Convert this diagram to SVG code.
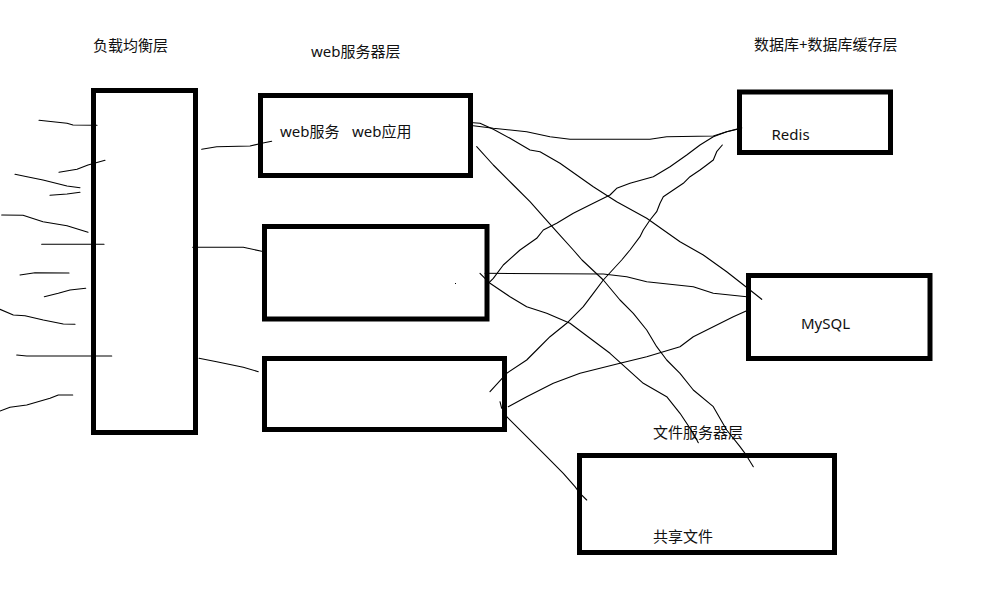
<svg xmlns="http://www.w3.org/2000/svg" width="1001" height="593" viewBox="0 0 1001 593">
<style>
.box{fill:none;stroke:#000;stroke-width:5}
.ln{fill:none;stroke:#000;stroke-width:1.1;stroke-linejoin:round;stroke-linecap:round}
.t{font-family:"Noto Sans","Noto Sans CJK SC",sans-serif;font-size:15px;fill:#111}
</style>
<rect width="1001" height="593" fill="#fff"/>
<g id="labels">
<text class="t" x="93" y="50.5">负载均衡层</text>
<text class="t" x="311" y="57">web服务器层</text>
<text class="t" x="754" y="49.5">数据库+数据库缓存层</text>
<text class="t" x="653" y="438">文件服务器层</text>
</g>
<g id="lb"><rect class="box" x="93.5" y="90.5" width="102" height="342"/></g>
<g id="web1"><rect class="box" x="260.5" y="95.5" width="210" height="80"/>
<text class="t" x="280" y="137">web服务<tspan x="352">web应用</tspan></text></g>
<g id="web2"><rect class="box" x="264.5" y="226.5" width="222.5" height="92.5"/><rect x="455" y="283" width="1" height="1" fill="#000"/></g>
<g id="web3"><rect class="box" x="264.5" y="358.5" width="240" height="71"/></g>
<g id="redis"><rect class="box" x="739.5" y="92" width="151" height="60.5"/>
<text class="t" x="771.5" y="139.5">Redis</text></g>
<g id="mysql"><rect class="box" x="748.5" y="275.5" width="181.5" height="83"/>
<text class="t" x="801" y="329">MySQL</text></g>
<g id="file"><rect class="box" x="579.5" y="455.5" width="255" height="97"/>
<text class="t" x="653" y="541.5">共享文件</text></g>
<g id="connectors">
<polyline class="ln" points="39,120.3 53,121.7 67,123.3 73,125 97,125.3"/>
<polyline class="ln" points="59,172.3 77,169.3 88,165 105,160.3"/>
<polyline class="ln" points="15,174.3 27,176.7 43,180 67,186 80,187.7"/>
<polyline class="ln" points="50,195.3 67,194 80,192.3"/>
<polyline class="ln" points="1.7,215 23,215.3 43,221.7 67,225.7 88,232.3"/>
<polyline class="ln" points="41.7,244.3 104,244.3"/>
<polyline class="ln" points="20,275 35,272.7 69,273"/>
<polyline class="ln" points="44.3,296.7 58.3,293.3 70,290 85.7,288.3"/>
<polyline class="ln" points="0,309.3 13.3,315 25,315.7 43.3,320 63.3,324 75,324.3"/>
<polyline class="ln" points="16.7,355 26.7,356 111.7,356"/>
<polyline class="ln" points="0,411 10,407.3 26.7,405 50,398.3 58.3,395 72.7,395"/>
<polyline class="ln" points="201.7,149.3 216.7,146.7 250,146 261.7,143.3 271.7,141.3"/>
<polyline class="ln" points="192.7,247.3 243.3,247.3 261.7,251.3"/>
<polyline class="ln" points="199,358.3 216.7,361.7 243.3,367.3 258.3,371.7"/>
<polyline class="ln" points="473.3,125.7 493.3,128.3 526.7,131.7 550,136.7 570,139.3 650,139.3 666.7,136.7 713.3,136 726.7,131.7 741.7,128.3"/>
<polyline class="ln" points="473.3,122.7 480,123.3 493.3,129.3 510,138.3 530,150 540,151.7 560,163.3 593.3,186.7 616.7,201.7 646.7,218.3 680,241.7 703.3,255 726.7,271.7 750,290 761.7,299.3"/>
<polyline class="ln" points="476.7,146.7 493.3,165 513.3,185 530,201.7 543.3,216.7 556.7,231.7 573.3,250 582,260 603.3,280 620,300 633.3,313.3 646.7,330 656.7,346.7 666.7,360 680,373.3 693.3,390 713.3,406.7 726.7,430 740,446.7 745,453.3 753.3,466.7"/>
<polyline class="ln" points="741.7,127.7 726.7,131.7 713.3,136.7 700,145 686.7,155 670,166.7 653.3,176.7 630,183.3 616.7,188.3 610,195 593.3,203.3 573.3,213.3 556.7,223.3 543.3,230 536.7,238.3 520,250 503.3,265 493.3,278.3 488.3,283.3"/>
<polyline class="ln" points="722.3,145 716.7,151.7 713.3,160 706.7,165 700,170 690,176.7 683.3,183.3 673.3,190 663.3,196.7 660,203.3 656.7,211.7 650,220 643.3,230 640,236.7 630,250 621.7,260 603.3,280 593.3,293.3 583.3,306.7 566.7,323.3 550,336.7 536.7,350 526.7,360 506.7,373.3 490,391.7"/>
<polyline class="ln" points="485,273.3 603.3,274 626.7,276.7 646.7,281.7 693.3,286.7 713.3,293.3 746.7,296.7 750,298"/>
<polyline class="ln" points="480,273.3 490,283.3 510,296.7 526.7,306.7 546.7,313.3 570,323.3 590,338.3 610,353.3 643.3,383.3 666.7,396.7 680,413.3 693.3,433.3 698.3,442.7"/>
<polyline class="ln" points="500,401.7 501.7,408.3"/>
<polyline class="ln" points="508.3,406.7 526.7,396.7 553.3,383.3 580,373.3 620,363.3 646.7,356.7 680,346.7 693.3,336.7 713.3,326.7 733.3,316.7 746.7,310.7"/>
<polyline class="ln" points="506.7,416.7 526.7,436.7 546.7,456.7 563.3,473.3 575,486.7 580,493.3 586.7,500"/>
</g>
</svg>
